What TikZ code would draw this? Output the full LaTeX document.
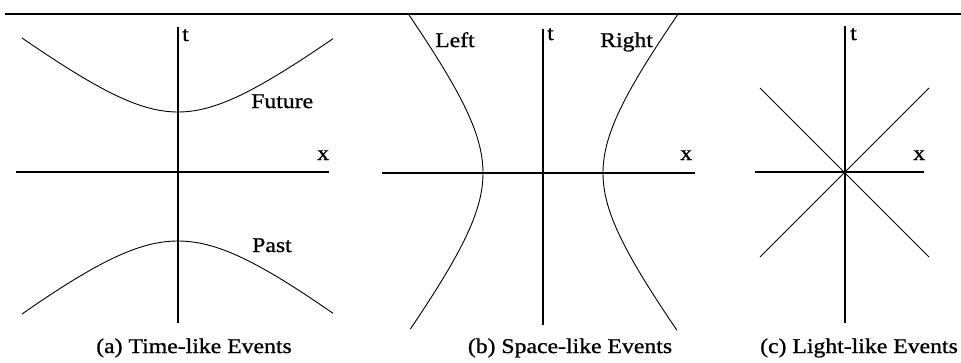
\documentclass[tikz,border=0pt]{standalone}
\usepackage{fontspec}
\setmainfont{Liberation Serif}[FakeStretch=1.13,FakeBold=1]
\begin{document}
\begin{tikzpicture}[x=1pt,y=-1pt,
  lbl/.style={inner sep=0pt, anchor=base west, font=\fontsize{21}{25}\selectfont},
  captxt/.style={inner sep=0pt, anchor=base, font=\fontsize{21}{25}\selectfont},
  axis/.style={line width=1.3pt},
  curve/.style={line width=0.9pt, line join=round},
  rule/.style={line width=2pt}]
\useasboundingbox (0,0) rectangle (961,362);
% top rule
\coordinate (r1) at (5,14);
\coordinate (r2) at (961,14);
\draw[rule] (r1) -- (r2);

% ---------- (a) Time-like ----------
\coordinate (aT) at (178,27);
\coordinate (aB) at (178,323);
\coordinate (aL) at (16,172);
\coordinate (aR) at (329,172);
\draw[axis] (aT) -- (aB);
\draw[axis] (aL) -- (aR);
\draw[curve] plot[domain=-156:155, samples=80] ({178+\x},{172-10*sqrt(36+0.59*(\x/10)*(\x/10))});
\draw[curve] plot[domain=-156:155, samples=80] ({178+\x},{172+10*sqrt(47.6+0.633*(\x/10)*(\x/10))});
\node[lbl] (at) at (182,41) {t};
\node[lbl] (ax) at (317,160) {x};
\node[lbl] (afut) at (251,108) {Future};
\node[lbl] (apast) at (252,252) {Past};
\node[captxt] (acap) at (194,353) {(a) Time-like Events};

% ---------- (b) Space-like ----------
\coordinate (bT) at (543,29);
\coordinate (bB) at (543,325);
\coordinate (bL) at (382,173);
\coordinate (bR) at (695,173);
\draw[axis] (bT) -- (bB);
\draw[axis] (bL) -- (bR);
\draw[curve] plot[domain=-158:156, samples=80] ({543-10*sqrt(36+0.575*(\x/10)*(\x/10))},{173+\x});
\draw[curve] plot[domain=-158:157, samples=80] ({543+10*sqrt(36+0.58*(\x/10)*(\x/10))},{173+\x});
\node[lbl] (bt) at (547,40) {t};
\node[lbl] (bx) at (680,160) {x};
\node[lbl] (bleft) at (435,47) {Left};
\node[lbl] (bright) at (600,47) {Right};
\node[captxt] (bcap) at (570,353) {(b) Space-like Events};

% ---------- (c) Light-like ----------
\coordinate (cT) at (845,26);
\coordinate (cB) at (845,323);
\coordinate (cL) at (755,172);
\coordinate (cR) at (924,172);
\coordinate (c1) at (760,88);
\coordinate (c2) at (929,257);
\coordinate (c3) at (760,257);
\coordinate (c4) at (929,88);
\draw[axis] (cT) -- (cB);
\draw[axis] (cL) -- (cR);
\draw[curve] (c1) -- (c2);
\draw[curve] (c3) -- (c4);
\node[lbl] (ct) at (850,40) {t};
\node[lbl] (cx) at (913,160) {x};
\node[captxt] (ccap) at (859,353) {(c) Light-like Events};
\end{tikzpicture}
\end{document}
